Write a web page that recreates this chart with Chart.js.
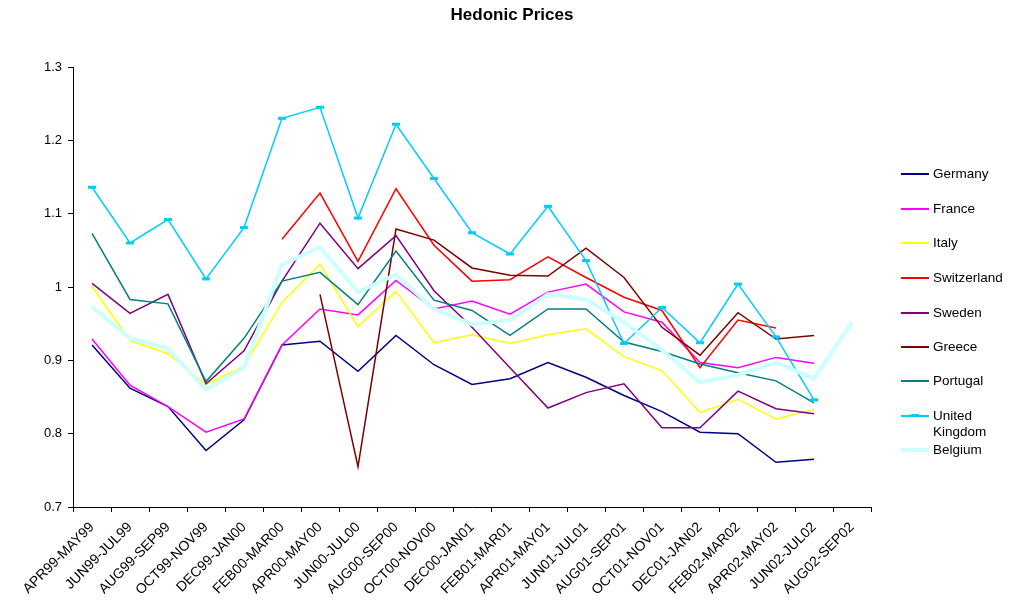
<!DOCTYPE html>
<html>
<head>
<meta charset="utf-8">
<title>Hedonic Prices</title>
<script src="https://cdn.jsdelivr.net/npm/chart.js@4/dist/chart.umd.min.js"></script>
<style>
  html, body { margin: 0; padding: 0; background: #fff; }
  body { width: 1010px; height: 604px; position: relative; overflow: hidden; font-family: "Liberation Sans", Arial, sans-serif; }
  #chart { position: absolute; left: 0; top: 0; }
  #title { position: absolute; left: 0; width: 1024px; top: 5px; text-align: center; font-weight: bold; font-size: 17px; color: #000; }
  #legend { position: absolute; left: 901px; top: 0; font-size: 13.5px; color: #000; }
  .item { position: absolute; left: 0; width: 120px; }
  .swatch { position: absolute; left: 0; width: 28px; }
  .mark { position: absolute; left: 10px; width: 8px; height: 3px; top: -1px; }
  .label { position: absolute; left: 32px; top: 0; line-height: 16px; white-space: nowrap; }
</style>
</head>
<body>
<canvas id="chart" width="1010" height="604"></canvas>
<div id="title">Hedonic Prices</div>
<div id="legend"></div>
<script>
// bi-monthly periods
const periods = [
  'APR99-MAY99', 'JUN99-JUL99', 'AUG99-SEP99', 'OCT99-NOV99', 'DEC99-JAN00',
  'FEB00-MAR00', 'APR00-MAY00', 'JUN00-JUL00', 'AUG00-SEP00', 'OCT00-NOV00',
  'DEC00-JAN01', 'FEB01-MAR01', 'APR01-MAY01', 'JUN01-JUL01', 'AUG01-SEP01',
  'OCT01-NOV01', 'DEC01-JAN02', 'FEB02-MAR02', 'APR02-MAY02', 'JUN02-JUL02',
  'AUG02-SEP02'
];

const germany = [0.921, 0.862, 0.837, 0.777, 0.819, 0.921, 0.926, 0.885, 0.934, 0.894,
  0.867, 0.875, 0.897, 0.877, 0.852, 0.830, 0.802, 0.800, 0.761, 0.765, null];
const france = [0.929, 0.866, 0.837, 0.802, 0.820, 0.921, 0.970, 0.962, 1.009, 0.970,
  0.981, 0.963, 0.993, 1.004, 0.966, 0.952, 0.897, 0.890, 0.904, 0.896, null];
const italy = [1.001, 0.927, 0.909, 0.867, 0.892, 0.979, 1.031, 0.946, 0.994, 0.924,
  0.935, 0.923, 0.935, 0.943, 0.905, 0.886, 0.829, 0.847, 0.820, 0.833, null];
const switzerland = [null, null, null, null, null, 1.065, 1.128, 1.035, 1.134, 1.057,
  1.008, 1.010, 1.041, 1.013, 0.986, 0.968, 0.890, 0.955, 0.944, null, null];
const sweden = [1.005, 0.964, 0.990, 0.868, 0.913, 1.008, 1.087, 1.025, 1.070, 0.995,
  0.945, 0.890, 0.835, 0.856, 0.868, 0.808, 0.808, 0.858, 0.834, 0.827, null];
const greece = [null, null, null, null, null, null, 0.990, 0.755, 1.079, 1.064,
  1.026, 1.016, 1.015, 1.053, 1.013, 0.945, 0.907, 0.965, 0.929, 0.934, null];
const portugal = [1.073, 0.983, 0.977, 0.871, 0.930, 1.008, 1.020, 0.976, 1.049, 0.982,
  0.968, 0.934, 0.970, 0.970, 0.925, 0.912, 0.895, 0.883, 0.872, 0.842, null];
const unitedKingdom = [1.136, 1.060, 1.092, 1.011, 1.081, 1.230, 1.245, 1.094, 1.222, 1.148,
  1.074, 1.045, 1.110, 1.036, 0.923, 0.972, 0.924, 1.004, 0.932, 0.846, null];
const belgium = [0.973, 0.930, 0.916, 0.860, 0.890, 1.030, 1.055, 0.993, 1.017, 0.970,
  0.949, 0.955, 0.990, 0.983, 0.952, 0.914, 0.870, 0.880, 0.897, 0.875, 0.952];

const countries = ['Germany', 'France', 'Italy', 'Switzerland', 'Sweden', 'Greece',
  'Portugal', 'United Kingdom', 'Belgium'];
const seriesValues = [germany, france, italy, switzerland, sweden, greece,
  portugal, unitedKingdom, belgium];
const colors = ['#000080', '#FF00FF', '#FFFF00', '#FF0000', '#800080', '#800000',
  '#008080', '#00CCFF', '#CCFFFF'];

const FONT = '"Liberation Sans", Arial, sans-serif';

const datasets = countries.map((name, i) => {
  const isUK = name === 'United Kingdom';
  const isBE = name === 'Belgium';
  return {
    label: name,
    data: seriesValues[i],
    borderColor: colors[i],
    backgroundColor: colors[i],
    borderWidth: isBE ? 4 : 1.5,
    tension: 0,
    fill: false,
    order: -i, // later series on top, like the spreadsheet
    pointStyle: isUK ? 'line' : 'circle',
    pointRadius: isUK ? 4 : 0,
    pointBorderWidth: isUK ? 3 : 0,
    pointBorderColor: colors[i]
  };
});

new Chart(document.getElementById('chart'), {
  type: 'line',
  data: { labels: periods, datasets },
  options: {
    responsive: false,
    animation: false,
    devicePixelRatio: 1,
    layout: { padding: { top: 67, right: 139, left: 0, bottom: 0 } },
    plugins: {
      legend: { display: false },
      title: { display: false },
      tooltip: { enabled: false }
    },
    scales: {
      x: {
        type: 'category',
        offset: true,
        afterFit: (scale) => { scale.height = 97; },
        grid: { offset: true, drawOnChartArea: false, drawTicks: true, tickLength: 5, color: '#000' },
        border: { display: true, color: '#000', width: 1 },
        ticks: {
          autoSkip: false, minRotation: 45, maxRotation: 45,
          color: '#000', padding: 7,
          font: { family: FONT, size: 14 }
        }
      },
      y: {
        min: 0.7,
        max: 1.3,
        afterFit: (scale) => { scale.width = 73; },
        grid: { drawOnChartArea: false, drawTicks: true, tickLength: 5, color: '#000' },
        border: { display: true, color: '#000', width: 1 },
        ticks: {
          stepSize: 0.1, color: '#000', padding: 6,
          font: { family: FONT, size: 13 },
          callback: (v) => String(Number(v.toFixed(1)))
        }
      }
    }
  }
});

// legend, built from the same series
const legendEl = document.getElementById('legend');
const legendTops = [166, 201, 235, 270, 305, 339, 373, 408, 442];
countries.forEach((name, i) => {
  const item = document.createElement('div');
  item.className = 'item';
  item.style.top = legendTops[i] + 'px';
  const sw = document.createElement('div');
  sw.className = 'swatch';
  const h = name === 'Belgium' ? 4 : 2;
  sw.style.height = h + 'px';
  sw.style.top = (8 - h / 2) + 'px';
  sw.style.background = colors[i];
  if (name === 'United Kingdom') {
    const mk = document.createElement('div');
    mk.className = 'mark';
    mk.style.background = colors[i];
    sw.appendChild(mk);
  }
  const lb = document.createElement('div');
  lb.className = 'label';
  lb.innerHTML = name === 'United Kingdom' ? 'United<br>Kingdom' : name;
  item.appendChild(sw);
  item.appendChild(lb);
  legendEl.appendChild(item);
});
</script>
</body>
</html>
